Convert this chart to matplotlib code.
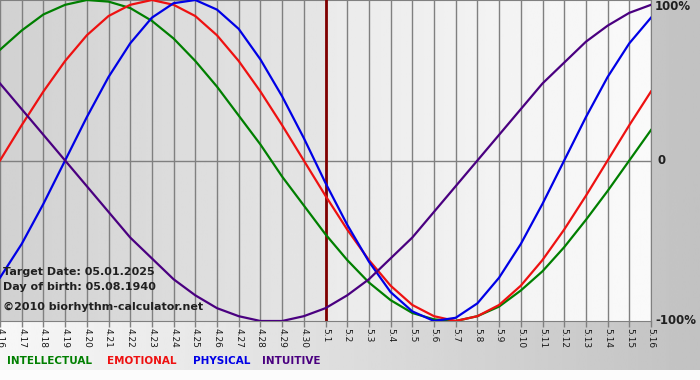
import matplotlib.pyplot as plt
import numpy as np

# days shown on the x axis (month.day)
days = ["4.16", "4.17", "4.18", "4.19", "4.20", "4.21", "4.22", "4.23", "4.24", "4.25",
        "4.26", "4.27", "4.28", "4.29", "4.30", "5.1", "5.2", "5.3", "5.4", "5.5",
        "5.6", "5.7", "5.8", "5.9", "5.10", "5.11", "5.12", "5.13", "5.14", "5.15", "5.16"]
target_idx = 15

# cycle values (-1 .. 1)
intellectual = [0.69, 0.81, 0.91, 0.97, 1.00, 0.99, 0.95, 0.87, 0.76, 0.62,
                0.46, 0.28, 0.10, -0.10, -0.28, -0.46, -0.62, -0.76, -0.87, -0.95,
                -0.99, -1.00, -0.97, -0.91, -0.81, -0.69, -0.54, -0.37, -0.19, 0.00, 0.19]
emotional = [0.00, 0.22, 0.43, 0.62, 0.78, 0.90, 0.97, 1.00, 0.97, 0.90,
             0.78, 0.62, 0.43, 0.22, 0.00, -0.22, -0.43, -0.62, -0.78, -0.90,
             -0.97, -1.00, -0.97, -0.90, -0.78, -0.62, -0.43, -0.22, 0.00, 0.22, 0.43]
physical = [-0.73, -0.52, -0.27, 0.00, 0.27, 0.52, 0.73, 0.89, 0.98, 1.00,
            0.94, 0.82, 0.63, 0.40, 0.14, -0.14, -0.40, -0.63, -0.82, -0.94,
            -1.00, -0.98, -0.89, -0.73, -0.52, -0.27, 0.00, 0.27, 0.52, 0.73, 0.89]
intuitive = [0.48, 0.32, 0.16, 0.00, -0.16, -0.32, -0.48, -0.61, -0.74, -0.84,
             -0.92, -0.97, -1.00, -1.00, -0.97, -0.92, -0.84, -0.74, -0.61, -0.48,
             -0.32, -0.16, 0.00, 0.16, 0.32, 0.48, 0.61, 0.74, 0.84, 0.92, 0.97]

series = [("INTELLECTUAL", intellectual, "#007f00"),
          ("EMOTIONAL", emotional, "#ee1111"),
          ("PHYSICAL", physical, "#0000e6"),
          ("INTUITIVE", intuitive, "#4a0080")]

fig = plt.figure(figsize=(7, 3.8), dpi=100)

# page background: light on the left, darker grey on the right, white strip at the bottom
bg = fig.add_axes([0, 0, 1, 1])
grad = np.linspace(0.97, 0.76, 256).reshape(1, -1)
bg.imshow(grad, extent=(0, 1, 10 / 380, 1), aspect="auto", cmap="gray", vmin=0, vmax=1)
bg.axhspan(0, 10 / 380, color="#fcfcfc", lw=0)
bg.set_xlim(0, 1)
bg.set_ylim(0, 1)
bg.axis("off")

ax = fig.add_axes([0, 59 / 380, 651 / 700, 321 / 380])
x = np.arange(len(days))
ax.set_xlim(0, len(days) - 1)
ax.set_ylim(-1.0, 1.0)

# plot area shading: past half darker, future half lighter
left = np.linspace(0.82, 0.90, 128).reshape(1, -1)
right = np.linspace(0.92, 0.98, 128).reshape(1, -1)
ax.imshow(left, extent=(0, target_idx, -1, 1), aspect="auto", cmap="gray", vmin=0, vmax=1, zorder=0)
ax.imshow(right, extent=(target_idx, len(days) - 1, -1, 1), aspect="auto", cmap="gray", vmin=0, vmax=1, zorder=0)

for xi in x:
    ax.axvline(xi, color="#808080", lw=1, zorder=1)
ax.axhline(0, color="#808080", lw=1, zorder=1)
ax.axvline(target_idx, color="#800000", lw=2, zorder=3)

for name, vals, col in series:
    ax.plot(x, vals, color=col, lw=1.6, zorder=4)

ax.set_xticks(x)
ax.set_xticklabels(days, rotation=-90, fontsize=6.5, color="#1a1a1a")
ax.tick_params(axis="x", direction="out", length=4, width=1, color="#808080", pad=1)
ax.set_yticks([])
for side in ["top", "bottom", "right"]:
    ax.spines[side].set_color("#808080")
ax.spines["left"].set_visible(False)

# right side percentage labels
ax.text(1.006, 1 - 6 / 321, "100%", transform=ax.transAxes, fontsize=8.5,
        fontweight="bold", color="#202020", va="center", ha="left", clip_on=False)
ax.text(1.01, 0.5, "0", transform=ax.transAxes, fontsize=8.5,
        fontweight="bold", color="#202020", va="center", ha="left", clip_on=False)
ax.text(1.006, 0.0, "-100%", transform=ax.transAxes, fontsize=8.5,
        fontweight="bold", color="#202020", va="center", ha="left", clip_on=False)

# info text inside the plot
info = ["Target Date: 05.01.2025", "Day of birth: 05.08.1940"]
fig.text(3 / 700, 1 - 272 / 380, info[0], fontsize=8, fontweight="bold", color="#202020", va="center")
fig.text(3 / 700, 1 - 287 / 380, info[1], fontsize=8, fontweight="bold", color="#202020", va="center")
fig.text(3 / 700, 1 - 307 / 380, "\u00a92010 biorhythm-calculator.net", fontsize=8,
         fontweight="bold", color="#202020", va="center")

# colored legend row
leg_x = [7, 107, 193, 262]
for (name, vals, col), lx in zip(series, leg_x):
    fig.text(lx / 700, 1 - 361 / 380, name, fontsize=7.5, fontweight="bold", color=col, va="center")

plt.savefig("out.png", dpi=100)
